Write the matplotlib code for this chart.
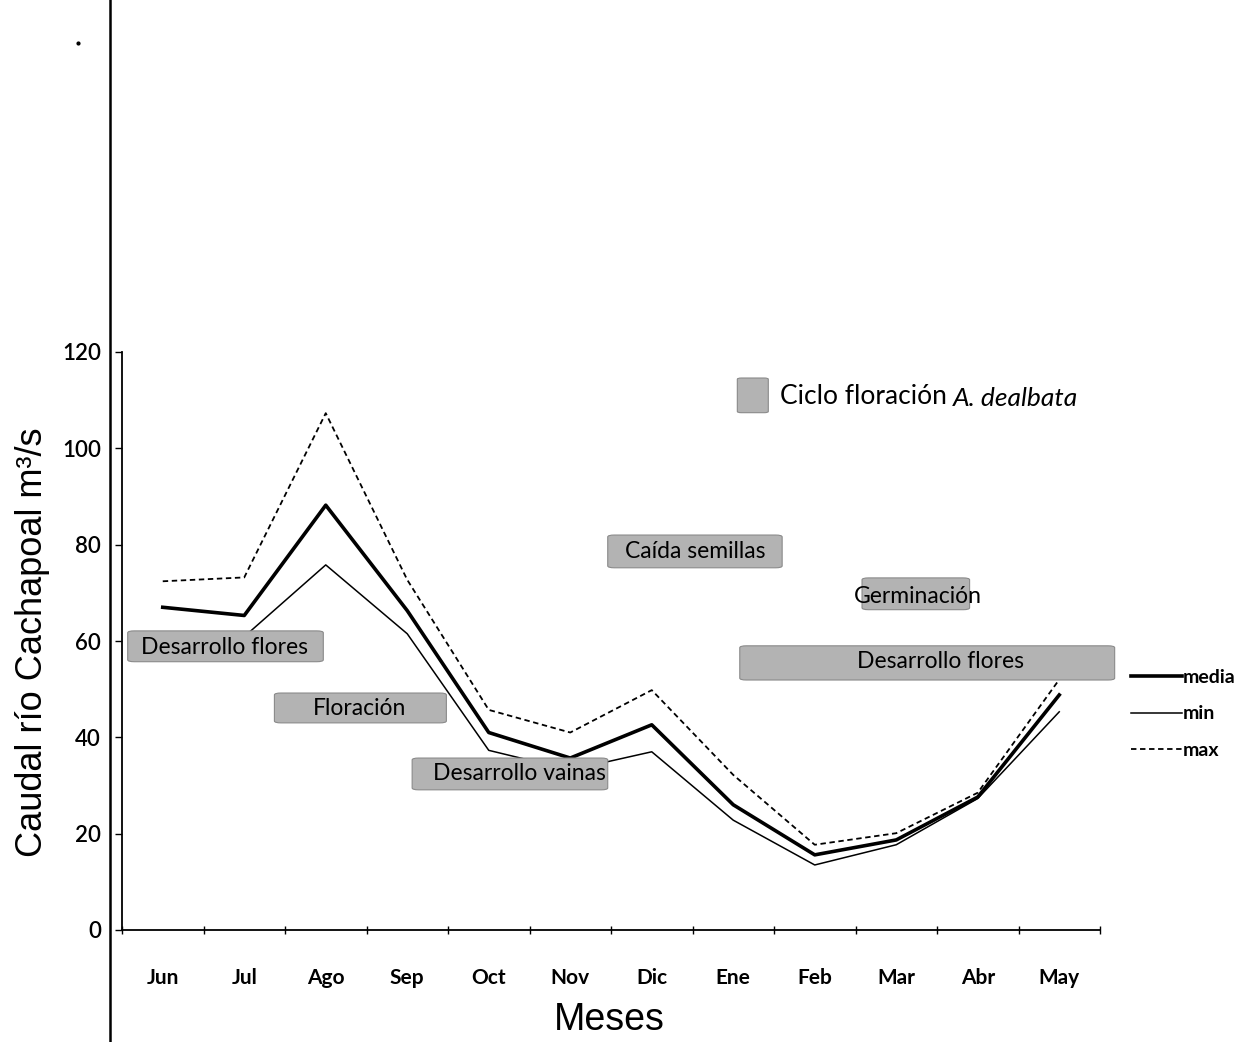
import matplotlib
matplotlib.use("Agg")
import matplotlib.pyplot as plt
from matplotlib.patches import FancyBboxPatch
from matplotlib.lines import Line2D

months = ["Jun", "Jul", "Ago", "Sep", "Oct", "Nov", "Dic", "Ene", "Feb", "Mar", "Abr", "May"]
media = [67, 65.3, 88.2, 66.3, 41, 35.7, 42.6, 26, 15.6, 18.7, 27.6, 48.8]
minimo = [61.9, 60.9, 75.8, 61.5, 37.3, 33.2, 37, 22.8, 13.5, 17.7, 27.3, 45.3]
maximo = [72.4, 73.2, 107.3, 72.7, 45.7, 41, 49.8, 32.2, 17.7, 20.1, 28.5, 52]
yticks = [0, 20, 40, 60, 80, 100, 120]

# phenology annotation boxes: (label, x0, x1, y0, y1, text x, text y)
phases = [
    ("Desarrollo flores", -0.43, 1.97, 55.7, 62.1, 0.76, 58.6),
    ("Floración", 1.37, 3.48, 43.0, 49.2, 2.42, 45.9),
    ("Desarrollo vainas", 3.06, 5.46, 29.1, 35.7, 4.38, 32.5),
    ("Caída semillas", 5.46, 7.60, 75.2, 82.0, 6.53, 78.5),
    ("Germinación", 8.58, 9.90, 66.5, 73.1, 9.27, 69.3),
    ("Desarrollo flores", 7.08, 11.68, 51.9, 59.0, 9.54, 55.8),
]

plt.rcParams['font.family'] = ['Lato', 'DejaVu Sans']

fig = plt.figure(figsize=(12.43, 10.42), dpi=100)
ax = fig.add_axes([122/1243, 1-930/1042, (1100-122)/1243, (930-352)/1042])

x = list(range(len(months)))
l1, = ax.plot(x, media, color='black', lw=2.6, label='media')
l2, = ax.plot(x, minimo, color='black', lw=1.1, label='min')
l3, = ax.plot(x, maximo, color='black', lw=1.3, ls=(0, (3, 2)), label='max')

ax.set_xlim(-0.5, len(months) - 0.5)
ax.set_ylim(0, 120)
ax.set_yticks(yticks)
ax.set_yticklabels([str(v) for v in yticks], fontsize=16, fontweight='semibold')
ax.set_xticks([i - 0.5 for i in range(len(months) + 1)])
ax.set_xticklabels([])
ax.set_xticks(x, minor=True)
ax.set_xticklabels(months, minor=True, fontsize=15, fontweight='bold')
ax.tick_params(axis='x', which='major', length=6, direction='inout', width=1)
ax.tick_params(axis='x', which='minor', length=0, pad=27)
ax.tick_params(axis='y', length=5, width=1, pad=10)
for s in ['top', 'right']:
    ax.spines[s].set_visible(False)
for s in ['left', 'bottom']:
    ax.spines[s].set_linewidth(1.3)

for label, x0, x1, y0, y1, tx, ty in phases:
    box = FancyBboxPatch((x0, y0), x1 - x0, y1 - y0,
                         boxstyle="round,pad=0,rounding_size=0.08",
                         facecolor='#b3b3b3', edgecolor='#8a8a8a', lw=0.8,
                         clip_on=False, zorder=3, mutation_aspect=5)
    ax.add_patch(box)
    ax.text(tx, ty, label, ha='center', va='center', fontsize=16.5, zorder=4)

# legend key for the flowering cycle
ax.add_patch(FancyBboxPatch((7.05, 107.4), 0.38, 7.2,
                            boxstyle="round,pad=0,rounding_size=0.05",
                            facecolor='#b3b3b3', edgecolor='#8a8a8a', lw=0.8,
                            clip_on=False, zorder=3, mutation_aspect=5))
ax.text(7.57, 110.8, "Ciclo floración ", fontsize=19, va='center', ha='left')
ax.text(9.70, 110.4, "A. dealbata", fontsize=19, va='center', ha='left', style='italic')

leg = fig.legend(handles=[l1, l2, l3], loc='upper left',
                 bbox_to_anchor=(1131/1243, 1-669/1042), frameon=False,
                 handlelength=2.6, handletextpad=0.05, labelspacing=1.0,
                 borderaxespad=0, borderpad=0,
                 prop={'weight': 'bold', 'size': 14})

fig.text(33/1243, 1-642/1042, "Caudal río Cachapoal m³/s", rotation=90,
         ha='center', va='center', fontsize=26, family='Liberation Sans')
fig.text(609/1243, 1-1020/1042, "Meses", ha='center', va='center',
         fontsize=27, family='Liberation Sans')

# scanned page frame line and speck
fig.add_artist(Line2D([110/1243, 110/1243], [0, 1], color='black', lw=1.8,
                      transform=fig.transFigure))
fig.add_artist(Line2D([78/1243], [1-43/1042], marker='o', ms=2, color='black',
                      transform=fig.transFigure))

fig.savefig("out.png", dpi=100)
